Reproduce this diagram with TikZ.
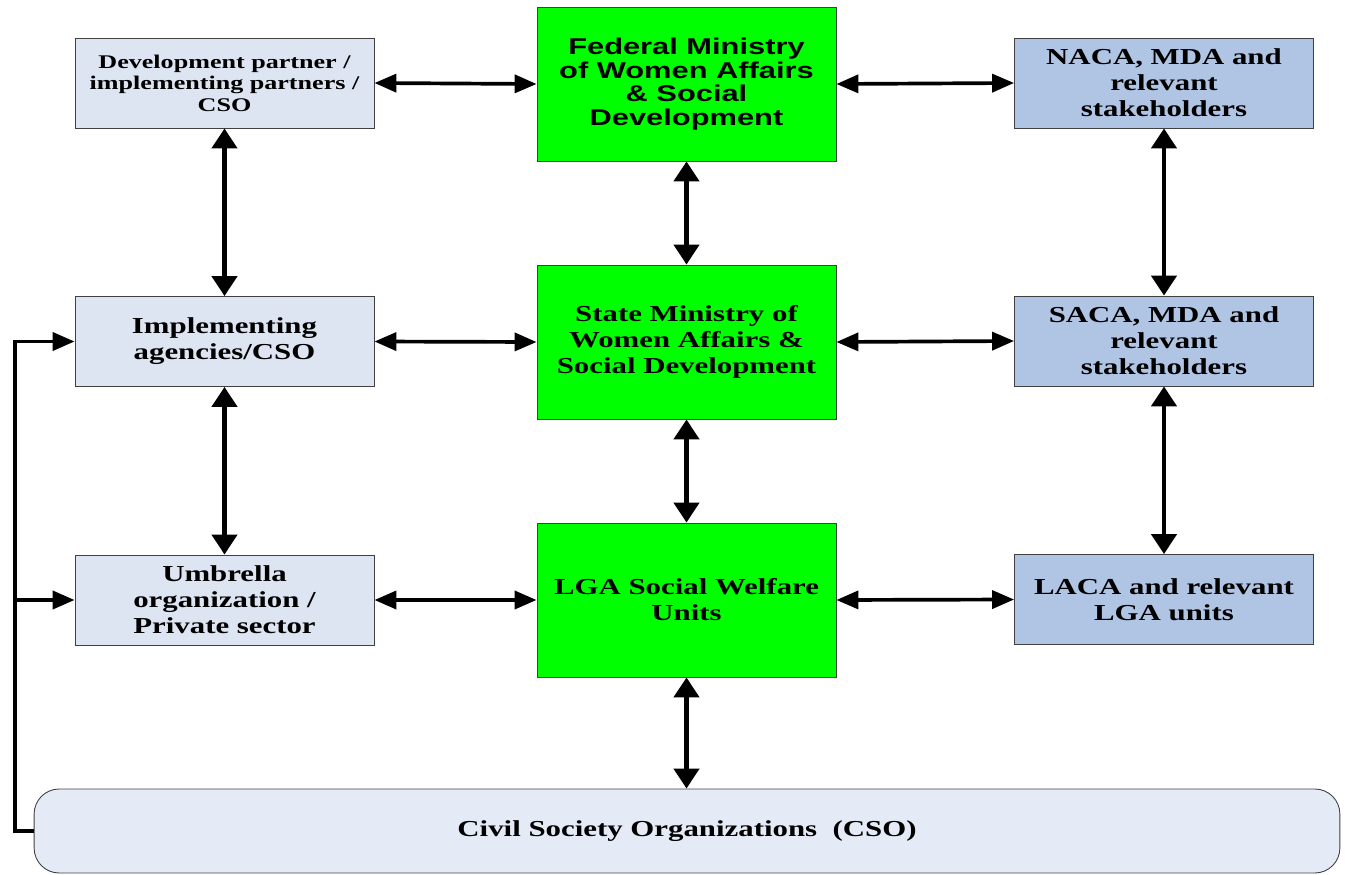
\documentclass[tikz,border=0pt]{standalone}
\usepackage{fontspec}
\setmainfont[FakeStretch=1.35]{Liberation Serif}
\newfontfamily\ministryfont[FakeStretch=1.35]{Liberation Sans}
\usetikzlibrary{arrows.meta,positioning}
\definecolor{ministry}{HTML}{00FF00}
\definecolor{partner}{HTML}{DCE5F1}
\definecolor{agency}{HTML}{B0C4E4}
\definecolor{civil}{HTML}{E4EBF6}

\begin{document}
\begin{tikzpicture}[x=0.02cm, y=-0.02cm,
    every node/.style={font=\bfseries\fontsize{13}{14.8}\selectfont, align=center},
    box/.style={draw=black!75, line width=0.5pt, minimum width=5.98cm, minimum height=1.8cm, inner sep=0pt},
    partnerbox/.style={box, fill=partner},
    agencybox/.style={box, fill=agency},
    govbox/.style={box, fill=ministry, minimum height=3.08cm},
    hlink/.style={{Triangle[length=0.44cm,width=0.36cm]}-{Triangle[length=0.44cm,width=0.36cm]}, line width=2.1pt},
    vlink/.style={{Triangle[length=0.4cm,width=0.5cm]}-{Triangle[length=0.4cm,width=0.5cm]}, line width=2.6pt},
    feed/.style={-{Triangle[length=0.44cm,width=0.36cm]}, line width=2.2pt}]
        \useasboundingbox (0,0) rectangle (1346,875);
        \node[partnerbox, font=\bfseries\fontsize{11}{12.3}\selectfont] (devpartner) at (224.5,83)
          {Development partner /\\implementing partners /\\CSO};
        \node[partnerbox] (implement) at (224.5,341.5) {Implementing\\agencies/CSO};
        \node[partnerbox] (umbrella) at (224.5,600) {Umbrella\\organization /\\Private sector};
        \node[govbox, font=\ministryfont\bfseries\fontsize{13}{13.4}\selectfont] (federal) at (686.5,84)
          {Federal Ministry\\of Women Affairs\\\& Social\\Development};
        \node[govbox] (state) at (686.5,342) {State Ministry of\\Women Affairs \&\\Social Development};
        \node[govbox] (lga) at (686.5,600) {LGA Social Welfare\\Units};
        \node[agencybox] (naca) at (1164,83) {NACA, MDA and\\relevant\\stakeholders};
        \node[agencybox] (saca) at (1164,341) {SACA, MDA and\\relevant\\stakeholders};
        \node[agencybox] (laca) at (1164,599.5) {LACA and relevant\\LGA units};
        \node[draw=black!75, line width=0.5pt, fill=civil, rounded corners=0.5cm,
          minimum width=26.12cm, minimum height=1.68cm] (cso) at (687,831)
          {Civil Society Organizations~~(CSO)};
        \foreach \a/\b in {devpartner/federal, implement/state, umbrella/lga,
                           federal/naca, state/saca, lga/laca}
          \draw[hlink] (\a.east) -- (\b.west);
        \foreach \a/\b in {devpartner/implement, implement/umbrella, federal/state,
                           state/lga, naca/saca, saca/laca}
          \draw[vlink] (\a.south) -- (\b.north);
        \draw[vlink] (lga.south) -- (lga.south |- cso.north);
        \draw[feed] (cso.west) -- ++(-19,0) coordinate (bend) |- (implement.west);
        \draw[feed] (bend |- umbrella.west) -- (umbrella.west);
      \end{tikzpicture}
\end{document}
